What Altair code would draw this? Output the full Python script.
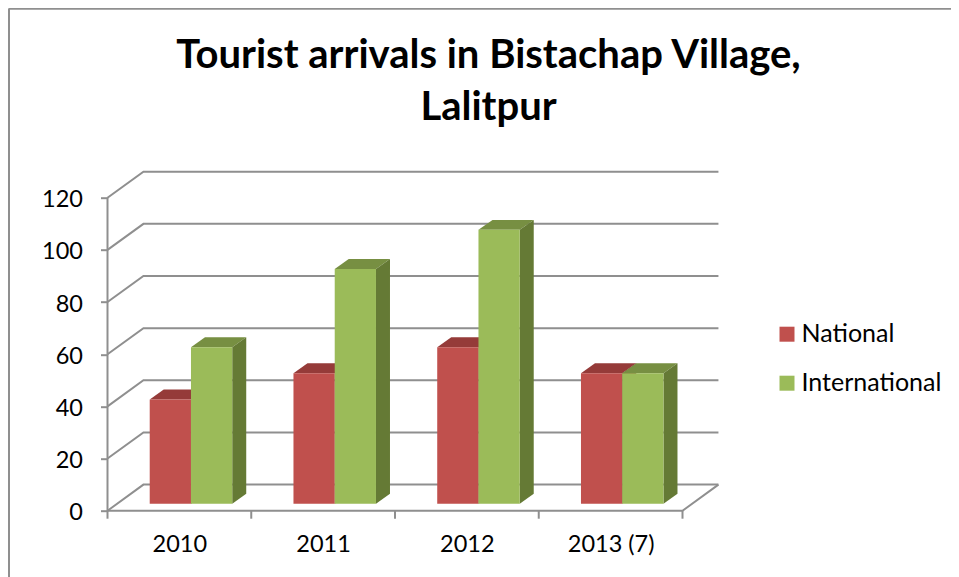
import altair as alt
import pandas as pd

categories = ["2010", "2011", "2012", "2013 (7)"]
national = [40, 50, 60, 50]
international = [60, 90, 105, 50]
series_names = ["National", "International"]
y_ticks = [0, 20, 40, 60, 80, 100, 120]
FONT = "Lato"
GREY = "#8f8f8f"
FRONT = ["#c0504d", "#9bbb59"]
TOP = ["#953b39", "#778f42"]
SIDE = ["#7d2f2d", "#657a35"]

# oblique projection, in data units
WALL_X, WALL_Y = 0.25, 10
BAR_X, BAR_Y = 0.0974, 3.83
BASE = 2.68
BAR_W = 0.287
BAR_START = 0.2937
W, H = 612, 340
XMAX, YMAX = W / 143.75, H / 2.608

x_scale = alt.Scale(domain=[0, XMAX], nice=False, zero=False)
y_scale = alt.Scale(domain=[0, YMAX], nice=False, zero=False)
label_expr = "[" + ",".join(f"'{c}'" for c in categories) + "][floor(datum.value)]"
x_enc = alt.X("x:Q", scale=x_scale, title=None, axis=alt.Axis(
    values=[i + 0.5 for i in range(len(categories))], labelExpr=label_expr, grid=False, domain=False,
    ticks=False, labelFont=FONT, labelFontSize=23.5, labelColor="#000000", labelPadding=22, labelFlush=False))
y_enc = alt.Y("y:Q", scale=y_scale, title=None, axis=alt.Axis(
    values=y_ticks, grid=False, domain=False, tickColor=GREY, tickWidth=2, tickSize=7,
    labelFont=FONT, labelFontSize=23.5, labelColor="#000000", labelPadding=18, labelOffset=2))

# wall and floor lines
n = len(categories)
grid_rows = []
for v in y_ticks:
    for k, (x, y) in enumerate([(0, v), (WALL_X, v + WALL_Y), (n + WALL_X, v + WALL_Y)]):
        grid_rows.append({"x": x, "y": y, "g": f"g{v}", "o": k})
for k, (x, y) in enumerate([(0, y_ticks[-1]), (0, 0), (n, 0), (n + WALL_X, WALL_Y)]):
    grid_rows.append({"x": x, "y": y, "g": "axis", "o": k})
grid = alt.Chart(pd.DataFrame(grid_rows)).mark_line(color=GREY, strokeWidth=2, strokeJoin="miter").encode(
    x=x_enc, y=y_enc, detail="g:N", order="o:Q")

tick_df = pd.DataFrame({"x": list(range(n + 1))})
x_ticks = alt.Chart(tick_df).mark_rule(color=GREY, strokeWidth=2).encode(
    x=x_enc, y=alt.value(H), y2=alt.value(H + 8))

layers = [grid, x_ticks]
for s, values in enumerate([national, international]):
    fronts, tops, sides = [], [], []
    for i, v in enumerate(values):
        xl = i + BAR_START + s * BAR_W
        xr = xl + BAR_W
        t = BASE + v
        fronts.append({"x": xl, "x2": xr, "y": BASE, "y2": t, "series": series_names[s]})
        tops += [{"x": xl, "x2": xr, "y": t, "b": i}, {"x": xl + BAR_X, "x2": xr + BAR_X, "y": t + BAR_Y, "b": i}]
        sides += [{"x": xr, "y": BASE, "y2": t, "b": i}, {"x": xr + BAR_X, "y": BASE + BAR_Y, "y2": t + BAR_Y, "b": i}]
    layers.append(alt.Chart(pd.DataFrame(tops)).mark_area(orient="horizontal", color=TOP[s]).encode(
        x=x_enc, x2="x2:Q", y=y_enc, detail="b:N"))
    layers.append(alt.Chart(pd.DataFrame(sides)).mark_area(orient="vertical", color=SIDE[s]).encode(
        x=x_enc, y=y_enc, y2="y2:Q", detail="b:N"))
    layers.append(alt.Chart(pd.DataFrame(fronts)).mark_rect().encode(
        x=x_enc, x2="x2:Q", y=y_enc, y2="y2:Q",
        color=alt.Color("series:N", title=None, scale=alt.Scale(domain=series_names, range=FRONT),
                        legend=alt.Legend(orient="none", legendX=667, legendY=151, symbolType="square",
                                          symbolSize=225, symbolStrokeWidth=0, labelFont=FONT, labelFontSize=25,
                                          labelColor="#000000", labelOffset=2, rowPadding=23, symbolOpacity=1))))

# chart frame, left and top edges
frame_df = pd.DataFrame({"k": [0]})
frame_left = alt.Chart(frame_df).mark_rule(color=GREY, strokeWidth=2).encode(
    x=alt.value(-98.5), y=alt.value(-162), y2=alt.value(H + 67))
frame_top = alt.Chart(frame_df).mark_rule(color=GREY, strokeWidth=2).encode(
    y=alt.value(-162), x=alt.value(-99), x2=alt.value(W + 232))
layers += [frame_left, frame_top]

chart = alt.layer(*layers).properties(
    width=W, height=H,
    padding={"left": 99.5, "top": 162.7, "right": 231.5, "bottom": 66.3},
    autosize=alt.AutoSizeParams(type="none"),
    background="#ffffff",
    title=alt.TitleParams(text=["Tourist arrivals in Bistachap Village,", "Lalitpur"],
                          font=FONT, fontSize=40, fontWeight="bold", color="#000000",
                          anchor="middle", dx=75, lineHeight=52, offset=-120),
).configure_view(stroke=None)

chart.save("out.html", embed_options={"renderer": "svg", "actions": False})
